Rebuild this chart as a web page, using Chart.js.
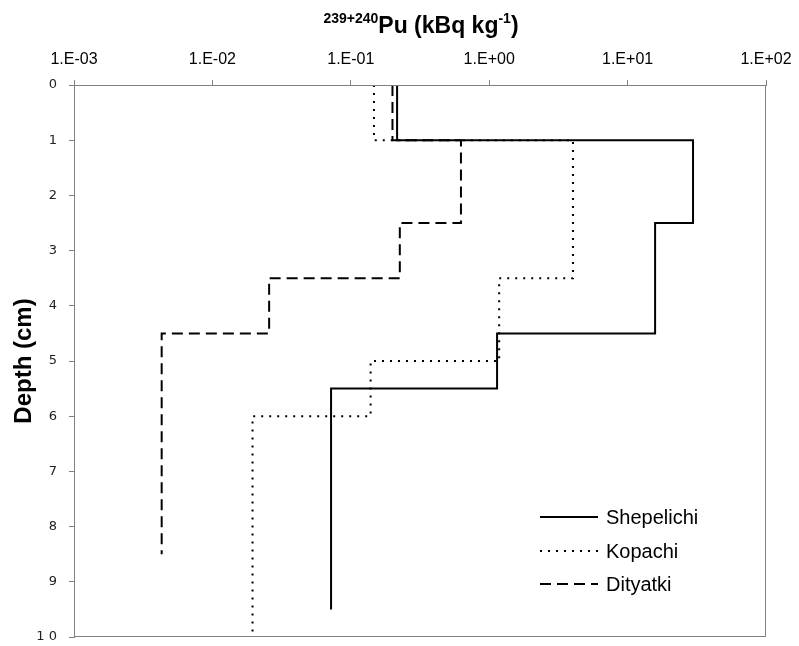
<!DOCTYPE html>
<html>
<head>
<meta charset="utf-8">
<script src="https://cdn.jsdelivr.net/npm/chart.js@4.4.1/dist/chart.umd.min.js"></script>
<style>
  html, body { margin: 0; padding: 0; background: #ffffff; }
  #wrap { width: 799px; height: 646px; position: relative; }
</style>
</head>
<body>
<div id="wrap"><canvas id="c" width="799" height="646"></canvas></div>
<script>
// ---- data ----
const seriesNames = ['Shepelichi', 'Kopachi', 'Dityatki'];
// layer boundaries (cm) and Pu activity per layer (kBq/kg)
const shepelichiDepths = [0, 1, 2.5, 4.5, 5.5, 9.5];
const shepelichiValues = [0.216, 29.7, 15.8, 1.14, 0.072];
const kopachiDepths = [0, 1, 3.5, 5, 6, 10];
const kopachiValues = [0.147, 4.03, 1.18, 0.139, 0.0195];
const dityatkiDepths = [0, 1, 2.5, 3.5, 4.5, 8.5];
const dityatkiValues = [0.20, 0.625, 0.226, 0.0257, 0.0043];
const xTickValues = [0.001, 0.01, 0.1, 1, 10, 100];
const xTickLabels = ['1.E-03', '1.E-02', '1.E-01', '1.E+00', '1.E+01', '1.E+02'];
const yTickLabels = ['0', '1', '2', '3', '4', '5', '6', '7', '8', '9', '1 0'];

function stepPoints(depths, values) {
  const pts = [];
  for (let i = 0; i < values.length; i++) {
    pts.push({ x: values[i], y: depths[i] });
    pts.push({ x: values[i], y: depths[i + 1] });
  }
  return pts;
}

const FONT = '"Liberation Sans", Arial, sans-serif';
const AXIS_GRAY = '#808080';

const frameAndText = {
  id: 'frameAndText',
  afterDraw(chart) {
    const ctx = chart.ctx;
    const a = chart.chartArea;
    ctx.save();
    // frame
    ctx.strokeStyle = AXIS_GRAY;
    ctx.lineWidth = 1;
    ctx.strokeRect(a.left + 0.5, a.top + 0.5, a.right - a.left - 1, a.bottom - a.top - 1);

    // title with superscripts
    ctx.fillStyle = '#000';
    ctx.textBaseline = 'alphabetic';
    const parts = [
      { t: '239+240', f: 'bold 14px ' + FONT, dy: -10 },
      { t: 'Pu (kBq kg', f: 'bold 23px ' + FONT, dy: 0 },
      { t: '-1', f: 'bold 14px ' + FONT, dy: -10 },
      { t: ')', f: 'bold 23px ' + FONT, dy: 0 }
    ];
    let total = 0;
    parts.forEach(p => { ctx.font = p.f; p.w = ctx.measureText(p.t).width; total += p.w; });
    let x = 421 - total / 2;
    const base = 33;
    parts.forEach(p => { ctx.font = p.f; ctx.textAlign = 'left'; ctx.fillText(p.t, x, base + p.dy); x += p.w; });

    // y axis title
    ctx.save();
    ctx.translate(31, (a.top + a.bottom) / 2);
    ctx.rotate(-Math.PI / 2);
    ctx.font = 'bold 24px ' + FONT;
    ctx.textAlign = 'center';
    ctx.textBaseline = 'alphabetic';
    ctx.fillText('Depth (cm)', 0, 0);
    ctx.restore();

    // legend
    const ly = [517, 551, 584];
    chart.data.datasets.forEach((ds, i) => {
      ctx.save();
      ctx.strokeStyle = ds.borderColor;
      ctx.lineWidth = ds.borderWidth;
      ctx.setLineDash(ds.borderDash || []);
      ctx.beginPath();
      ctx.moveTo(540, ly[i]);
      ctx.lineTo(598, ly[i]);
      ctx.stroke();
      ctx.restore();
      ctx.font = '20px ' + FONT;
      ctx.fillStyle = '#000';
      ctx.textAlign = 'left';
      ctx.textBaseline = 'middle';
      ctx.fillText(ds.label, 606, ly[i] + 1);
    });
    ctx.restore();
  }
};

new Chart(document.getElementById('c'), {
  type: 'scatter',
  data: {
    datasets: [
      { label: seriesNames[0], data: stepPoints(shepelichiDepths, shepelichiValues),
        showLine: true, borderColor: '#000', borderWidth: 2, borderDash: [], pointRadius: 0 },
      { label: seriesNames[1], data: stepPoints(kopachiDepths, kopachiValues),
        showLine: true, borderColor: '#000', borderWidth: 2, borderDash: [2, 6], pointRadius: 0 },
      { label: seriesNames[2], data: stepPoints(dityatkiDepths, dityatkiValues),
        showLine: true, borderColor: '#000', borderWidth: 2, borderDash: [11, 6], pointRadius: 0 }
    ]
  },
  options: {
    responsive: false,
    animation: false,
    events: [],
    layout: { padding: { left: 0, right: 33, top: 0, bottom: 9 } },
    plugins: { legend: { display: false }, title: { display: false }, tooltip: { enabled: false } },
    scales: {
      x: {
        type: 'logarithmic',
        position: 'top',
        min: 0.001,
        max: 100,
        afterBuildTicks(scale) { scale.ticks = xTickValues.map(v => ({ value: v })); },
        afterFit(scale) { scale.height = 85; scale.paddingLeft = 0; scale.paddingRight = 0; },
        grid: { drawOnChartArea: false, drawTicks: true, tickLength: 5, color: AXIS_GRAY },
        border: { display: true, color: AXIS_GRAY },
        ticks: {
          autoSkip: false, maxRotation: 0, padding: 11, color: '#000',
          font: { family: FONT, size: 16 },
          callback: (v, i) => xTickLabels[i]
        }
      },
      y: {
        type: 'linear',
        reverse: true,
        min: 0,
        max: 10,
        afterFit(scale) { scale.width = 74; scale.paddingTop = 0; scale.paddingBottom = 0; },
        grid: { drawOnChartArea: false, drawTicks: true, tickLength: 5, color: AXIS_GRAY },
        border: { display: true, color: AXIS_GRAY },
        ticks: {
          stepSize: 1, autoSkip: false, padding: 12, color: '#222',
          font: { family: '"DejaVu Sans", sans-serif', size: 13 },
          callback: (v) => yTickLabels[Math.round(v)]
        }
      }
    }
  },
  plugins: [frameAndText]
});
</script>
</body>
</html>
